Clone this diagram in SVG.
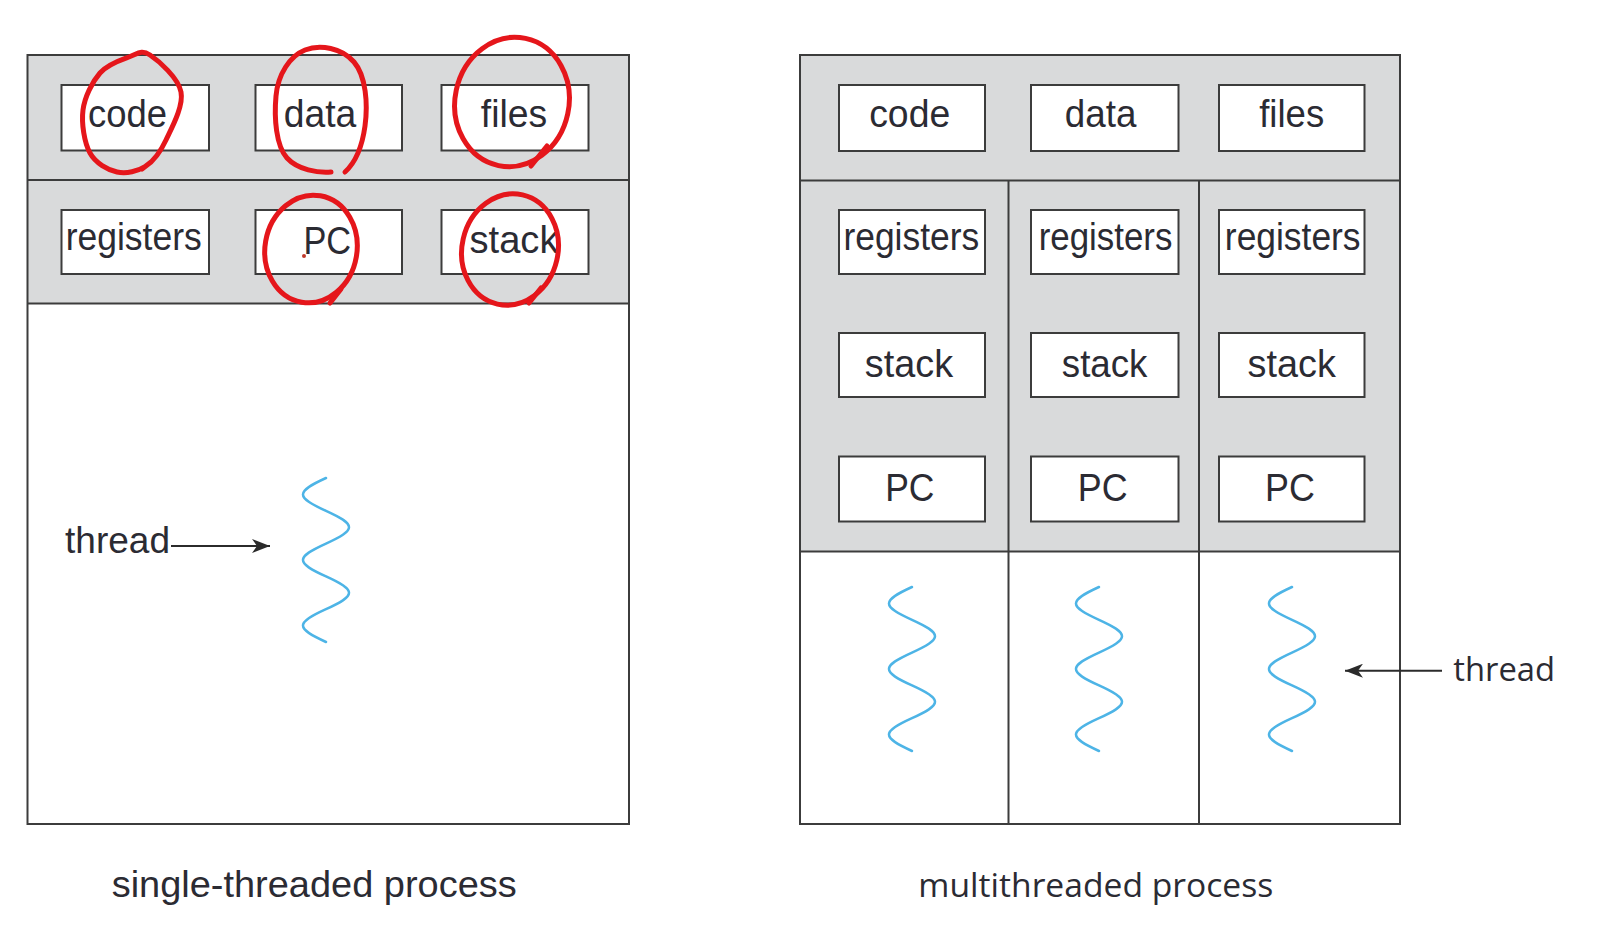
<svg xmlns="http://www.w3.org/2000/svg" width="1620" height="950" viewBox="0 0 1620 950">
  <defs>
    <style>
      .panel { fill: #d9dadb; stroke: none; }
      .frame { fill: none; stroke: #3c3c3c; stroke-width: 2; }
      .line { stroke: #3c3c3c; stroke-width: 2; fill: none; }
      .box { fill: #ffffff; stroke: #3c3c3c; stroke-width: 2; }
      .lbl { font-family: "Liberation Sans", Arial, sans-serif; font-size: 38px; fill: #2b2b33; text-anchor: middle; }
      .cap { font-family: "Liberation Sans", Arial, sans-serif; font-size: 36px; fill: #2b2b33; }
      .cap2 { font-family: "Open Sans", "Noto Sans", sans-serif; font-size: 33px; fill: #2b2b33; }
      .wave { fill: none; stroke: #4db4e6; stroke-width: 2.5; stroke-linecap: round; }
      .arrow { stroke: #2b2b2b; stroke-width: 2; fill: none; }
      .red { fill: none; stroke: #e5161b; stroke-width: 5; stroke-linecap: round; stroke-linejoin: round; }
    </style>
    <marker id="ah" viewBox="0 0 18 14" markerWidth="18" markerHeight="14" refX="18" refY="7" orient="auto" markerUnits="userSpaceOnUse">
      <path d="M0,0 L18,7 L0,14 L5,7 z" fill="#2b2b2b"/>
    </marker>
    <path id="wv" d="M0,0 c -30.7,13.9 -30.7,18.9 0,32.8 c 30.7,13.9 30.7,18.9 0,32.8 c -30.7,13.9 -30.7,18.9 0,32.8 c 30.7,13.9 30.7,18.9 0,32.8 c -30.7,13.9 -30.7,18.9 0,32.8"/>
  </defs>
  <rect width="1620" height="950" fill="#ffffff"/>

  <!-- Single-threaded process -->
  <g id="single-process">
    <rect class="panel" x="27.5" y="55" width="601.5" height="248.5"/>
    <rect x="27.5" y="303.5" width="601.5" height="520.5" fill="#ffffff"/>
    <rect class="frame" x="27.5" y="55" width="601.5" height="769"/>
    <line class="line" x1="27.5" y1="180" x2="629" y2="180"/>
    <line class="line" x1="27.5" y1="303.5" x2="629" y2="303.5"/>
  </g>
  <g id="s-code"><rect class="box" x="61.5" y="85" width="147.5" height="65.5"/><text class="lbl" x="127.5" y="127" textLength="79" lengthAdjust="spacingAndGlyphs">code</text></g>
  <g id="s-data"><rect class="box" x="255.5" y="85" width="146.5" height="65.5"/><text class="lbl" x="320" y="127" textLength="72.6" lengthAdjust="spacingAndGlyphs">data</text></g>
  <g id="s-files"><rect class="box" x="441.5" y="85" width="147" height="65.5"/><text class="lbl" x="514" y="127" textLength="66.4" lengthAdjust="spacingAndGlyphs">files</text></g>
  <g id="s-registers"><rect class="box" x="61.5" y="210" width="147.5" height="64"/><text class="lbl" x="133.7" y="250" textLength="136" lengthAdjust="spacingAndGlyphs">registers</text></g>
  <g id="s-pc"><rect class="box" x="255.5" y="210" width="146.5" height="64"/><text class="lbl" x="327.3" y="254" textLength="47.7" lengthAdjust="spacingAndGlyphs">PC</text></g>
  <g id="s-stack"><rect class="box" x="441.5" y="210" width="147" height="64"/><text class="lbl" x="514" y="253" textLength="89" lengthAdjust="spacingAndGlyphs">stack</text></g>
  <g id="s-thread"><use href="#wv" class="wave" x="326" y="478"/></g>
  <g id="s-thread-label"><text class="cap" x="65" y="553" textLength="105" lengthAdjust="spacingAndGlyphs">thread</text></g>
  <g id="s-caption"><text class="cap" x="111.7" y="897" textLength="405" lengthAdjust="spacingAndGlyphs">single-threaded process</text></g>

  <!-- Multithreaded process -->
  <g id="multi-process">
    <rect class="panel" x="800" y="55" width="600" height="496.5"/>
    <rect x="800" y="551.5" width="600" height="272.5" fill="#ffffff"/>
    <rect class="frame" x="800" y="55" width="600" height="769"/>
    <line class="line" x1="800" y1="180.5" x2="1400" y2="180.5"/>
    <line class="line" x1="800" y1="551.5" x2="1400" y2="551.5"/>
    <line class="line" x1="1008.5" y1="180.5" x2="1008.5" y2="824"/>
    <line class="line" x1="1199" y1="180.5" x2="1199" y2="824"/>
  </g>
  <g id="m-code"><rect class="box" x="839" y="85" width="146" height="66"/><text class="lbl" x="909.7" y="127" textLength="81" lengthAdjust="spacingAndGlyphs">code</text></g>
  <g id="m-data"><rect class="box" x="1031" y="85" width="147.5" height="66"/><text class="lbl" x="1100.6" y="127" textLength="71.6" lengthAdjust="spacingAndGlyphs">data</text></g>
  <g id="m-files"><rect class="box" x="1219" y="85" width="145.5" height="66"/><text class="lbl" x="1291.7" y="127" textLength="65" lengthAdjust="spacingAndGlyphs">files</text></g>
  <g id="m-registers-1"><rect class="box" x="839" y="210" width="146" height="64"/><text class="lbl" x="911.3" y="249.5" textLength="135.7" lengthAdjust="spacingAndGlyphs">registers</text></g>
  <g id="m-registers-2"><rect class="box" x="1031" y="210" width="147.5" height="64"/><text class="lbl" x="1105.5" y="249.5" textLength="133.7" lengthAdjust="spacingAndGlyphs">registers</text></g>
  <g id="m-registers-3"><rect class="box" x="1219" y="210" width="145.5" height="64"/><text class="lbl" x="1292.7" y="249.5" textLength="135.7" lengthAdjust="spacingAndGlyphs">registers</text></g>
  <g id="m-stack-1"><rect class="box" x="839" y="333" width="146" height="64"/><text class="lbl" x="909" y="377" textLength="88.3" lengthAdjust="spacingAndGlyphs">stack</text></g>
  <g id="m-stack-2"><rect class="box" x="1031" y="333" width="147.5" height="64"/><text class="lbl" x="1104.6" y="377" textLength="85.6" lengthAdjust="spacingAndGlyphs">stack</text></g>
  <g id="m-stack-3"><rect class="box" x="1219" y="333" width="145.5" height="64"/><text class="lbl" x="1291.7" y="377" textLength="88.3" lengthAdjust="spacingAndGlyphs">stack</text></g>
  <g id="m-pc-1"><rect class="box" x="839" y="456.5" width="146" height="65"/><text class="lbl" x="909.8" y="500.5" textLength="49.3" lengthAdjust="spacingAndGlyphs">PC</text></g>
  <g id="m-pc-2"><rect class="box" x="1031" y="456.5" width="147.5" height="65"/><text class="lbl" x="1102.7" y="500.5" textLength="49.8" lengthAdjust="spacingAndGlyphs">PC</text></g>
  <g id="m-pc-3"><rect class="box" x="1219" y="456.5" width="145.5" height="65"/><text class="lbl" x="1290" y="500.5" textLength="49.8" lengthAdjust="spacingAndGlyphs">PC</text></g>
  <g id="m-thread-1"><use href="#wv" class="wave" x="912" y="587"/></g>
  <g id="m-thread-2"><use href="#wv" class="wave" x="1099" y="587"/></g>
  <g id="m-thread-3"><use href="#wv" class="wave" x="1292" y="587"/></g>
  <g id="m-thread-label"><text class="cap2" x="1453.3" y="681" textLength="101.7" lengthAdjust="spacingAndGlyphs">thread</text></g>
  <g id="m-caption"><text class="cap2" x="918.3" y="897" textLength="355" lengthAdjust="spacingAndGlyphs">multithreaded process</text></g>

  <!-- Connectors -->
  <g id="connectors">
    <line class="arrow" x1="171" y1="546" x2="270" y2="546" marker-end="url(#ah)"/>
    <line class="arrow" x1="1442" y1="670.7" x2="1345" y2="670.7" marker-end="url(#ah)"/>
  </g>

  <!-- Red hand-drawn annotations -->
  <g id="annotations">
    <path class="red" d="M150,55 C158.7,60.8 178.3,77.8 181,92 C183.7,106.2 171.8,127.7 166,140 C160.2,152.3 154.2,160.7 146,166 C137.8,171.3 126.3,174.2 117,172 C107.7,169.8 95.7,163.3 90,153 C84.3,142.7 81.3,123.3 83,110 C84.7,96.7 92.3,81.8 100,73 C107.7,64.2 120.7,60 129,57 C137.3,54 141.3,49.2 150,55 M142,169 L151,162"/>
    <path class="red" d="M331,172 C318,173 298,170 287,158 C276,146 274,118 276,96 C278,74 290,56 305,50 C320,44 342,48 354,62 C366,76 368,104 365,126 C362,148 356,162 345,172"/>
    <ellipse class="red" cx="512" cy="102" rx="57" ry="65" transform="rotate(12 512 102)"/>
    <path class="red" d="M531,166 L547,146"/>
    <ellipse class="red" cx="311" cy="249" rx="46" ry="54" transform="rotate(10 311 249)"/>
    <path class="red" d="M330,303 L341,289"/>
    <ellipse class="red" cx="510" cy="249.5" rx="48" ry="56" transform="rotate(13 510 249.5)"/>
    <path class="red" d="M529,303 L541,288"/>
    <circle cx="304" cy="256" r="2" fill="#c0392b"/>
  </g>
</svg>
